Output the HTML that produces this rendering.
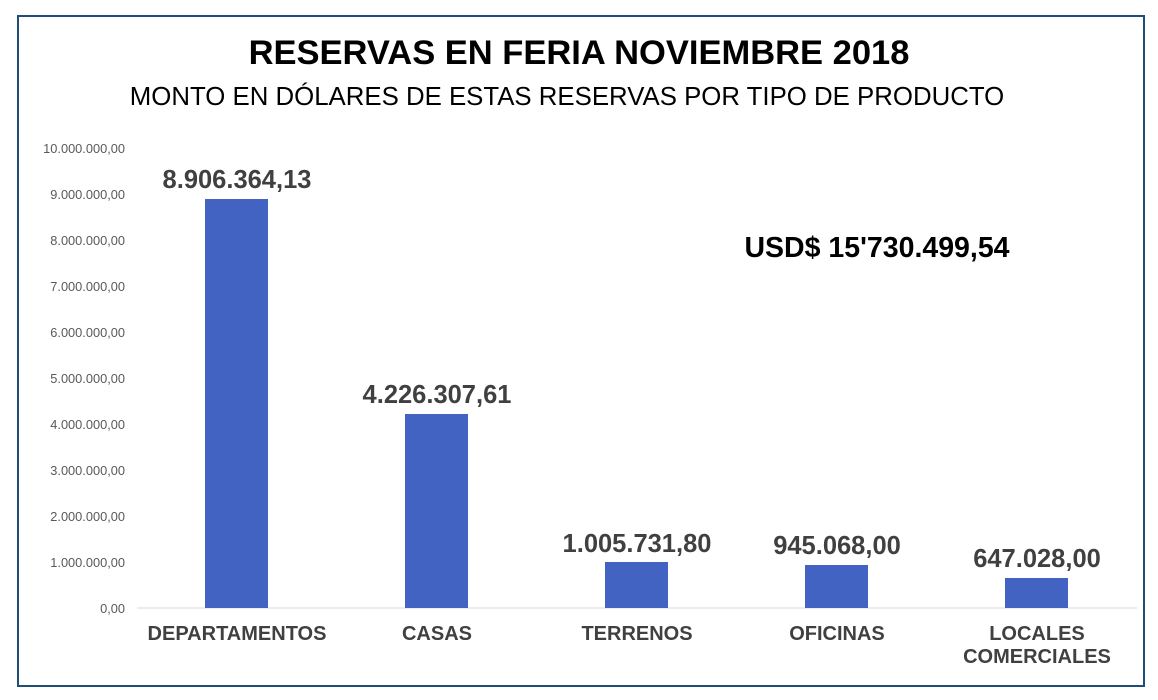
<!DOCTYPE html>
<html><head><meta charset="utf-8"><style>
html,body{margin:0;padding:0;background:#fff;}
svg{display:block;font-family:"Liberation Sans",Arial,sans-serif;}
</style></head><body>
<svg width="1158" height="700" viewBox="0 0 1158 700" xmlns="http://www.w3.org/2000/svg">
<rect x="0" y="0" width="1158" height="700" fill="#fff"/>
<rect x="18" y="16" width="1126" height="670" fill="#fff" stroke="#1f4e79" stroke-width="2"/>
<text x="579" y="64" text-anchor="middle" font-size="34.5" font-weight="bold" fill="#000">RESERVAS EN FERIA NOVIEMBRE 2018</text>
<text x="567" y="105" text-anchor="middle" font-size="25.8" fill="#000">MONTO EN DÓLARES DE ESTAS RESERVAS POR TIPO DE PRODUCTO</text>
<g font-size="12.8" fill="#595959" text-anchor="end">
<text x="125" y="153">10.000.000,00</text>
<text x="125" y="199">9.000.000,00</text>
<text x="125" y="245">8.000.000,00</text>
<text x="125" y="291">7.000.000,00</text>
<text x="125" y="337">6.000.000,00</text>
<text x="125" y="383">5.000.000,00</text>
<text x="125" y="429">4.000.000,00</text>
<text x="125" y="475">3.000.000,00</text>
<text x="125" y="521">2.000.000,00</text>
<text x="125" y="567">1.000.000,00</text>
<text x="125" y="613">0,00</text>
</g>
<line x1="137" y1="608" x2="1137" y2="608" stroke="#d9d9d9" stroke-width="1"/>
<g fill="#4263c1">
<rect x="205" y="199" width="63" height="409"/>
<rect x="405" y="414" width="63" height="194"/>
<rect x="605" y="562" width="63" height="46"/>
<rect x="805" y="565" width="63" height="43"/>
<rect x="1005" y="578" width="63" height="30"/>
</g>
<g font-size="25.5" font-weight="bold" fill="#404040" text-anchor="middle">
<text x="237" y="188">8.906.364,13</text>
<text x="437" y="403">4.226.307,61</text>
<text x="637" y="552">1.005.731,80</text>
<text x="837" y="554">945.068,00</text>
<text x="1037" y="567">647.028,00</text>
</g>
<g font-size="20" font-weight="bold" fill="#404040" text-anchor="middle">
<text x="237" y="640">DEPARTAMENTOS</text>
<text x="437" y="640">CASAS</text>
<text x="637" y="640">TERRENOS</text>
<text x="837" y="640">OFICINAS</text>
<text x="1037" y="640">LOCALES</text>
<text x="1037" y="663">COMERCIALES</text>
</g>
<text x="877" y="257" text-anchor="middle" font-size="28.5" font-weight="bold" fill="#000">USD$ 15'730.499,54</text>
</svg>
</body></html>
